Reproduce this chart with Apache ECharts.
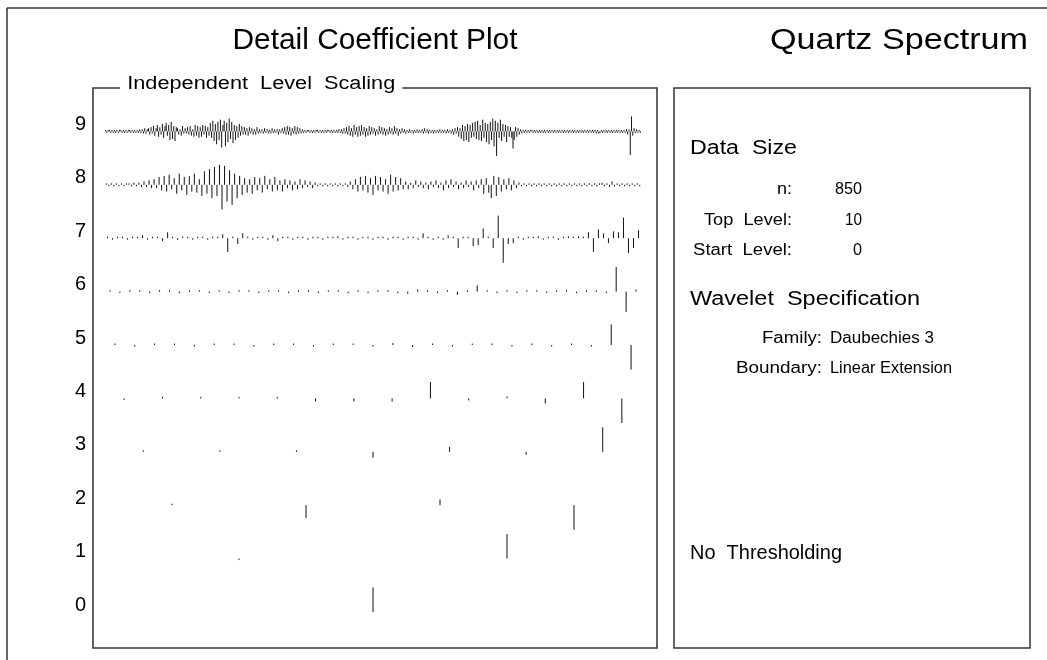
<!DOCTYPE html>
<html>
<head>
<meta charset="utf-8">
<title>Detail Coefficient Plot</title>
<script src="https://cdn.jsdelivr.net/npm/echarts@6/dist/echarts.min.js"></script>
<style>
  html, body { margin: 0; padding: 0; background: #fff; }
  #main { width: 1047px; height: 660px; }
</style>
</head>
<body>
<div id="main"></div>
<script>
// levels on the left axis
const levels = [0, 1, 2, 3, 4, 5, 6, 7, 8, 9];

// detail coefficients per level (relative heights)
const level0 = [24];
const level1 = [-1, 24];
const level2 = [1, -13, 6, -25];
const level3 = [1, 1, 0.5, -6, 5, -3, 25];
const level4 = [-0.5, 1.5, 0.5, 0.5, 1, -3, -3, -3, 16, -2, 2, -5, 16, -24];
const level5 = [0.5, -0.5, 0.5, 0.5, -0.5, 0.5, 0.5, -0.5, 0.5, 0.5, -0.5, 0.5, 0.5, -0.5,
  2, -2, 0.5, -1.5, 0.5, 0.5, -0.5, 0.5, -0.5, 1.5, -0.5, 21, -25];
const level6 = [0.5, -0.5, 0.5, 0.5, -0.5, 1.5, 0.5, -0.5, 0.5, 0.5,
  -0.5, 0.5, -0.5, 0.5, 0.5, -1, 0.5, 0.5, -0.5, 0.5,
  0.5, -0.5, 0.5, 0.5, -0.5, 0.5, -0.5, 0.5, 0.5, -0.5,
  -2, 2, 0.5, -0.5, 0.5, -3, 0.5, 6, 0.5, -0.5,
  0.5, -0.5, 0.5, 0.5, -0.5, 0.5, 0.5, -1, 0.5, 0.5,
  -0.5, 23, -19, 2];
const level7 = [0.5, -0.5, 0.5, 0.5, -0.5, 0.5, 1, 3, -0.5, 0.5,
  1, -3, 6, 0.5, -1, 0.5, 1, -0.5, 0.5, 0.5,
  -0.5, 1, 0.5, 4, -14, 1, -6, 5, 0.5, -0.5,
  0.5, 1, -0.5, 3, -3, 0.5, 1, -0.5, 0.5, 0.5,
  -0.5, 0.5, 1, -0.5, 0.5, 1, 2, -0.5, 0.5, 0.5,
  -0.5, 0.5, 1, -0.5, 0.5, 0.5, -1, 0.5, 0.5, -0.5,
  0.5, 1, -0.5, 5, 1, -0.5, 0.5, -1, 3, 0.5,
  -10, 0.5, 1, -8, -7, 10, 0.5, -10, 23, -25,
  -6, -5, 0.5, -0.5, 0.5, 1, 2, -0.5, 0.5, 0.5,
  -0.5, 0.5, 2, 0.5, 2, 0.5, 6, -14, 9, 5,
  -5, 7, 6, 21, -15, -10, 8];
const level8 = [0.5, -0.5, 0.5, -0.5, 1, -0.5, 0.5, -1, 0.5, 1, -1, 2, -1, 2, -2, 3, -2, 4, -3, 5, -3, 7, -5, 8, -6,
  9, -4, 6, -8, 10, -5, 7, -9, 8, -6, 10, -7, 5, -10, 12, -8, 14, -12, 16, -10, 18, -22, 17, -15, 13,
  -18, 10, -12, 8, -9, 6, -7, 5, -8, 7, -5, 6, -7, 8, -4, 5, -6, 7, -5, 4, -6, 5, -3, 4, -5,
  3, -4, 5, -3, 4, -2, 3, -3, 2, -1, 1, -0.5, 0.5, -1, 0.5, -0.5, 1, -0.5, 0.5, -1, 1, -2, 3, -4, 5,
  -6, 7, -5, 8, -7, 6, -9, 8, -5, 7, -6, 5, -8, 9, -6, 7, -5, 6, -4, 3, -4, 2, -3, 4, -2,
  3, -3, 2, -4, 3, -2, 4, -3, 2, -5, 4, -3, 5, -2, 3, -4, 2, -3, 4, -2, 3, -5, 4, -3, 5,
  -8, 6, -7, -12, 8, -10, 7, -6, 5, -4, 6, -5, 4, -3, 2, -1, 1, -0.5, 0.5, -1, 0.5, -0.5, 1, -0.5, 0.5,
  -0.5, 0.5, -0.5, 0.5, -0.5, 0.5, -0.5, 0.5, -0.5, 0.5, -0.5, 0.5, -0.5, 0.5, -0.5, 0.5, -0.5, 1, -0.5, 0.5, -1, 0.5, 2, -0.5, 1,
  -2, 3, -1, 0.5, -0.5, 0.5, -1, 0.5, -0.5, 0.5, -0.5, 0.5, -0.5];
const level9 = [0.5, -0.5, 0.5, 0.5, -0.5, 0.5, -0.5, 1, -0.5, 0.5, -1, 0.5, 0.5, -0.5, 1, -0.5, 0.5, -1, 0.5, 1, -0.5, 1, -1, 1, -1,
  1, -1.5, 2, -1, 2, -2, 3, -2, 2, 3, -3, 4, -2, 5, -4, 3, 6, -5, 4, -3, 7, -6, 5, 8, -4,
  6, -8, 9, -7, 5, -9, 4, 3, -3, 2, -4, 5, -2, 3, -2, 4, -3, 5, -4, 2, -5, 6, -4, 5, -6,
  4, -5, 6, -3, 5, -6, 4, -4, 8, -6, 10, -9, 7, -12, 9, -8, 11, -15, 6, 10, -14, 8, -10, 12, -7,
  9, -11, 6, -8, 5, -6, 7, -4, 5, -3, 4, -3, 3, -4, 4, -2, 3, -3, 2, -3, 4, -2, 2, -1, 2,
  -2, 3, -1, 2, -2, 1, -2, 3, -1, 2, -1, 2, -3, 2, -1, 3, -2, 4, -3, 5, -3, 4, -4, 3, -2,
  5, -3, 4, -2, 3, -2, 2, -1, 1, -1, 0.5, 1, -1, 0.5, -0.5, 1, -1, 0.5, 1, -0.5, 0.5, -1, 1, -0.5, 0.5,
  -1, 0.5, 1, -0.5, 0.5, -1, 1, -0.5, 1, -1, 2, -1, 2, -2, 3, -2, 4, -3, 5, -4, 3, -5, 6, -3, 4,
  -5, 5, -4, 6, -3, 4, -5, 3, -4, 5, -3, 4, -2, 3, -4, 2, -3, 5, -2, 4, -3, 3, -4, 2, -3,
  4, -2, 3, -3, 5, -2, 3, -4, 2, -2, 3, -1, 2, -2, 1, -1, 2, -1, 1, -2, 1, -1, 2, -1, 1,
  -1, 2, -2, 3, -1, 2, -2, 1, -1, 1, -2, 1, -1, 1, -1, 2, -1, 1, -1, 1, -2, 2, -1, 1, -2,
  2, -3, 3, -2, 4, -5, 3, -7, 6, -9, 5, -8, 7, -10, 6, -6, 8, -5, 9, -7, 10, -8, 6, -9, 11,
  -6, 8, -10, 7, -12, 9, -8, 12, -14, 10, -23, 8, -6, 11, -9, 7, -5, 6, -10, 5, -5, 4, -6, -16, -8,
  4, -5, 3, -3, 2, -2, 1, -1, 1, -0.5, 0.5, -1, 0.5, 0.5, -0.5, 0.5, -0.5, 0.5, -0.5, 0.5, -0.5, 0.5, -0.5, 0.5, -0.5,
  0.5, -0.5, 0.5, -0.5, 0.5, -0.5, 0.5, -0.5, 0.5, -0.5, 0.5, -0.5, 0.5, -0.5, 0.5, -0.5, 0.5, -0.5, 0.5, -0.5, 0.5, -0.5, 0.5, -0.5, 0.5,
  -0.5, 0.5, -0.5, 0.5, -0.5, 0.5, -0.5, 0.5, -0.5, 0.5, -1, 0.5, -1, 1, -2, 1, -2, -1, 1, -1, 0.5, -0.5, 0.5, -0.5, 0.5,
  -0.5, 0.5, -0.5, 0.5, -0.5, 0.5, -1, 0.5, -1, 1, -1, 1, -1, 2, -3, 2, -22, 14, -4, 3, -1, 2, -1, 1, -0.5];

const coefficients = [level0, level1, level2, level3, level4, level5, level6, level7, level8, level9];

// info panel text
const dataSizeLabels = ['n:', 'Top  Level:', 'Start  Level:'];
const dataSizeValues = ['850', '10', '0'];
const waveletLabels = ['Family:', 'Boundary:'];
const waveletValues = ['Daubechies 3', 'Linear Extension'];

// each level scaled on its own: largest coefficient gets 0.46 of a level step
const seriesData = [];
coefficients.forEach((arr, lev) => {
  const n = arr.length;
  const maxAbs = Math.max(...arr.map(v => Math.abs(v)));
  arr.forEach((v, k) => {
    seriesData.push([(k + 0.5) / n, lev, v / maxAbs * 0.46]);
  });
});

function renderItem(params, api) {
  const x = api.value(0), lev = api.value(1), h = api.value(2);
  const p0 = api.coord([x, lev]);
  const p1 = api.coord([x, lev + h]);
  let y2 = p1[1];
  if (Math.abs(y2 - p0[1]) < 1.5) y2 = p0[1] + (h >= 0 ? -1.5 : 1.5);
  return {
    type: 'line',
    shape: { x1: p0[0], y1: p0[1], x2: p0[0], y2: y2 },
    style: { stroke: '#111', lineWidth: 1 }
  };
}

const font = 'Liberation Sans, Arial, sans-serif';
const measureCtx = document.createElement('canvas').getContext('2d');

// text stretched horizontally so it spans the given width (the original font runs wide)
function fitText(text, x, y, size, width, align, extra) {
  measureCtx.font = size + 'px ' + font;
  const w = measureCtx.measureText(text).width;
  return Object.assign({
    type: 'text', x: x, y: y, scaleX: width / w,
    style: { text: text, font: size + 'px ' + font, fill: '#000', align: align, verticalAlign: 'middle' }
  }, extra || {});
}

const graphics = [
  // outer frame
  { type: 'line', shape: { x1: 7, y1: 8, x2: 1047, y2: 8 }, style: { stroke: '#333', lineWidth: 1.5 } },
  { type: 'line', shape: { x1: 7, y1: 8, x2: 7, y2: 660 }, style: { stroke: '#333', lineWidth: 1.5 } },
  // titles
  fitText('Detail Coefficient Plot', 375, 41, 30, 285, 'center'),
  fitText('Quartz Spectrum', 899, 41, 30, 258, 'center'),
  // info box
  { type: 'rect', shape: { x: 674, y: 88, width: 356, height: 560 }, style: { fill: 'none', stroke: '#333', lineWidth: 1.5 } },
  fitText('Data  Size', 690, 148, 20, 107, 'left'),
  fitText('Wavelet  Specification', 690, 299, 20, 230, 'left'),
  fitText('No  Thresholding', 690, 553, 20, 152, 'left')
];
// frame title sits in a gap of the top border
const frameTitle = fitText('Independent  Level  Scaling', 120, 84, 18, 268, 'left', { z: 10 });
frameTitle.style.backgroundColor = '#fff';
frameTitle.style.padding = [2, 6];
graphics.push(frameTitle);

const dataSizeWidths = [15, 88, 99];
const dataValueWidths = [27, 17, 9];
dataSizeLabels.forEach((t, i) => {
  graphics.push(fitText(t, 792, 190 + i * 30.5, 16, dataSizeWidths[i], 'right'));
  graphics.push(fitText(dataSizeValues[i], 862, 190 + i * 30.5, 16, dataValueWidths[i], 'right'));
});
const waveletWidths = [60, 86];
const waveletValueWidths = [104, 122];
waveletLabels.forEach((t, i) => {
  graphics.push(fitText(t, 822, 339 + i * 30, 16, waveletWidths[i], 'right'));
  graphics.push(fitText(waveletValues[i], 830, 339 + i * 30, 16, waveletValueWidths[i], 'left'));
});

const chart = echarts.init(document.getElementById('main'), null, { renderer: 'canvas' });
chart.setOption({
  animation: false,
  backgroundColor: '#fff',
  grid: { left: 93, top: 88, width: 564, height: 560, show: true, borderColor: '#333', borderWidth: 1.5 },
  xAxis: { type: 'value', min: -0.02239, max: 1.02985, show: false },
  yAxis: {
    type: 'value', min: -0.674, max: 9.813,
    splitLine: { show: false }, axisLine: { show: false }, axisTick: { show: false },
    axisLabel: {
      customValues: levels, fontSize: 20, fontFamily: font, color: '#000', margin: 7,
      verticalAlign: 'bottom', lineHeight: 14
    }
  },
  graphic: graphics,
  series: [{
    type: 'custom',
    renderItem: renderItem,
    encode: { x: 0, y: 1 },
    data: seriesData,
    clip: true
  }]
});
</script>
</body>
</html>
